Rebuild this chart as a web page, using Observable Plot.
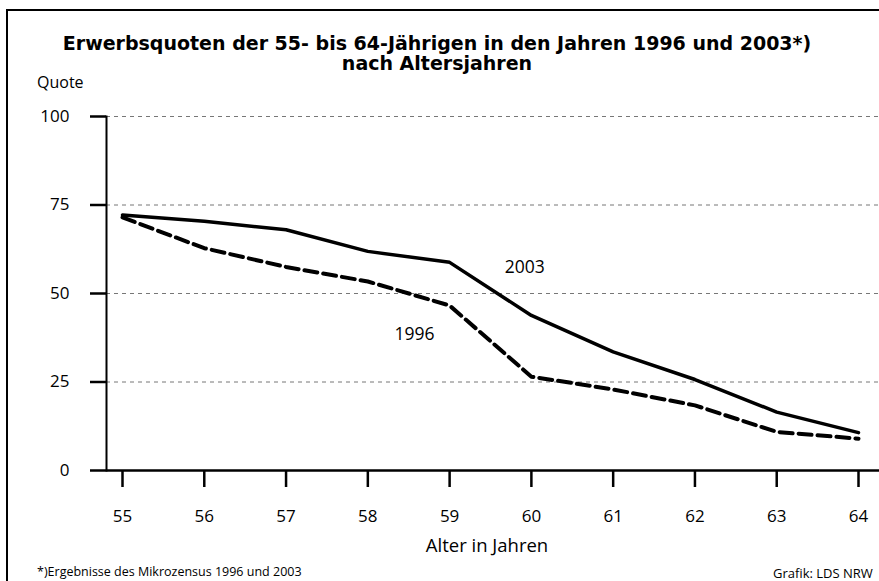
<!DOCTYPE html>
<html><head><meta charset="utf-8">
<script src="https://cdn.jsdelivr.net/npm/d3@7"></script>
<script src="https://cdn.jsdelivr.net/npm/@observablehq/plot@0.6"></script>
<style>
html,body{margin:0;padding:0;background:#fff;overflow:hidden;}
#wrap{position:relative;width:879px;height:581px;overflow:hidden;font-family:"Open Sans",sans-serif;color:#000;}
#border{position:absolute;left:6px;top:9px;width:900px;height:600px;border:2px solid #000;box-sizing:border-box;}
.t{position:absolute;white-space:nowrap;}
#title{left:0;width:874px;top:33px;text-align:center;font-family:"DejaVu Sans",sans-serif;font-weight:bold;font-size:19px;line-height:20px;}
#chart{position:absolute;left:0;top:0;}
</style></head>
<body><div id="wrap">
<div id="border"></div>
<div id="chart"></div>
<div class="t" id="title">Erwerbsquoten der 55- bis 64-Jährigen in den Jahren 1996 und 2003*)<br>nach Altersjahren</div>
<div class="t" style="left:37px;top:71px;font-size:16px;">Quote</div>
<div class="t" style="left:0;width:974px;top:532px;text-align:center;font-size:18.5px;">Alter in Jahren</div>
<div class="t" style="left:37px;top:563px;font-size:12.5px;">*)Ergebnisse des Mikrozensus 1996 und 2003</div>
<div class="t" style="left:773px;top:564px;font-size:13px;">Grafik: LDS NRW</div>
</div>
<script>
const ages = [55,56,57,58,59,60,61,62,63,64];
const q2003 = [72.2,70.4,68.0,61.9,58.8,43.8,33.5,25.7,16.5,10.7];
const q1996 = [71.5,62.8,57.5,53.4,46.6,26.5,22.9,18.4,10.9,9.0];
const yTicks = [0,25,50,75,100];
const gridTicks = [25,50,75,100];
const labels = [{age:59.92, q:57.5, text:"2003"},{age:58.57, q:38.5, text:"1996"}];

const data = ages.map((a,i)=>({age:a,q:q2003[i],year:"2003"}));
const data96 = ages.map((a,i)=>({age:a,q:q1996[i],year:"1996"}));

const plot = Plot.plot({
  width:879, height:581,
  marginLeft:106, marginRight:0, marginTop:116, marginBottom:111,
  style:{fontFamily:"'Open Sans',sans-serif", fontSize:"17px", background:"transparent", color:"#000"},
  x:{domain:[55,64], range:[122,858]},
  y:{domain:[0,100]},
  marks:[
    Plot.ruleY(gridTicks,{stroke:"#777",strokeWidth:1,strokeDasharray:"4,4"}),
    Plot.axisY({ticks:yTicks, tickSize:16, tickPadding:21, tickFormat:d=>String(d), label:null, strokeWidth:2.5}),
    Plot.axisX({ticks:ages, tickSize:17, tickPadding:22, tickFormat:d=>String(d), label:null, strokeWidth:2.5}),
    Plot.frame({anchor:"left", strokeWidth:2}),
    Plot.ruleY([0],{strokeWidth:2.5}),
    Plot.line(data96,{x:"age",y:"q",stroke:"#000",strokeWidth:4,strokeDasharray:"13,6"}),
    Plot.line(data,{x:"age",y:"q",stroke:"#000",strokeWidth:3.5}),
    Plot.text(labels,{x:"age",y:"q",text:"text",fontSize:17.5})
  ]
});
document.getElementById("chart").appendChild(plot);
</script>
</body></html>
